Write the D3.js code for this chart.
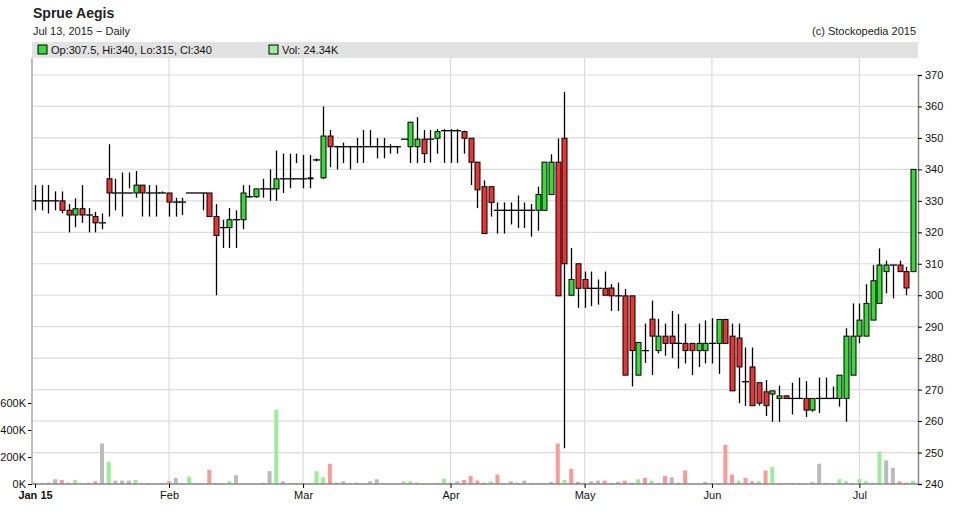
<!DOCTYPE html>
<html>
<head>
<meta charset="utf-8">
<script src="https://cdn.jsdelivr.net/npm/d3@7"></script>
<style>
  body { margin: 0; background: #fff; }
  svg { font-family: "Liberation Sans", Arial, sans-serif; }
</style>
</head>
<body>
<svg id="chart" width="958" height="529"></svg>
<script>
// trading days Jan 2 - Jul 13 2015 (UK holidays removed)
const holidays = ["2015-01-01", "2015-04-03", "2015-04-06", "2015-05-04", "2015-05-25"];
const monthTicks = ["Jan 15", "Feb", "Mar", "Apr", "May", "Jun", "Jul"];
const priceTicks = [240, 250, 260, 270, 280, 290, 300, 310, 320, 330, 340, 350, 360, 370];
const volTicks = [0, 200, 400, 600];

const opens = [330,330,330,330,330,327,325.5,327.5,325.5,325,323,337,332.5,332.5,332.5,332.5,335,332.5,332.5,332.5,332.5,
  329.6,329.6,332.5,332.5,332.5,332.5,325,321.5,321.5,324,324,331.3,331.3,333.8,333.8,333.8,337,337,337,337,
  337,343,337.3,350.6,347.2,347.2,347.2,347.2,347.2,347.2,347.2,347.2,347.2,347.2,349.6,347.2,347.2,349.6,349.6,349.9,352.3,352.3,
  352.3,352,349.9,342.3,334.5,334.5,327,327,327,327,327,327,327,327,332,342.3,349.9,300,310,305,
  302.2,302.2,302.2,302.3,299.8,299.8,299.8,274.6,282.4,292.4,282.4,287,287,284.7,284.7,284.7,282.4,282.4,284.7,
  284.7,292.3,287,286.4,272.5,277.2,272.2,269.3,268.6,267.2,268,267.2,267.2,267.2,263.5,267.2,267.2,267.2,267.2,267.2,274.6,287,
  287,292.1,297.4,307.5,309.6,309.6,307.5,307.5,315];
const highs = [335,335,335,333,333,329,330.8,335,327.7,326.5,326,348,337,339,339,339.5,335,335,335,333,332.5,
  331,331,332.5,332.5,332.5,332.5,329,324,327.7,327,335,335,333.5,337,340,346,345,345,345,344.6,
  344.6,343.5,360,352.5,347.5,348.5,347.5,350,352.5,352.5,350,350,348,347.5,349.6,355,356.6,352.5,352.5,352.8,352.8,352.8,
  352.8,352.3,349.9,342.3,336.5,334.5,329.5,329.5,329.5,331.7,329.5,329,334.5,339.8,344.8,349.9,364.7,315,310,307.5,
  307.5,305,307.5,303.5,304,302,299.8,282.4,291,298.3,292.5,291,295,294,291,284.7,291,292,292.7,
  284.7,292.5,291,291,283.4,283.4,272.2,273,268.6,271.3,268.2,272.2,273.8,272.7,263.6,273.8,273.8,271,267.2,289.5,297.4,
  297.4,303.5,309.6,314.9,311,309.6,311,309,340];
const lows = [327,327,326,327,326,320,321.6,323,320,320,321,325,327,325,334,331,325,325,325,332.5,325,
  325,325.5,332.5,332.5,327,325,300,315,315,315,321,331,331,331,330,330,332.5,334,342,334,
  334,342.5,337,340.7,340,342,340,342,342,347.2,343.5,343.5,345,345,349.6,342,342,342,342.2,345,342,342,
  342,345,335,327.7,319.6,325,319.6,319.6,322.5,321.4,321.4,318.6,320.5,327,332,336.5,251.4,300,296,296,
  296.5,297,300.6,295,295,294.5,271,274.6,278.5,274.6,281.5,280.8,280,276.7,278.3,274.6,277.2,278.3,278.3,
  275,292,281.5,265.7,264.8,264.8,264.9,261.6,259.8,259.8,267.7,262.1,267.2,261.3,263,262.6,267.2,267.2,264.6,259.8,274.6,
  284.7,287,297.4,300.1,300.6,299,307.5,300,315];
const closes = [330,330,330,330,327,325.5,327.5,325.5,325.5,323,323,332.5,332.5,332.5,332.5,335,332.5,332.5,332.5,332.5,329.6,
  329.6,329.6,332.5,332.5,332.5,325,319,321.5,324,324,332.5,331.3,333.8,333.8,333.8,337,337,337,337,337,
  337.3,343,350.6,347.2,347.2,347.2,347.2,347.2,347.2,347.2,347.2,347.2,347.2,347.2,349.6,355,349.6,345,349.6,352,352.3,352.3,
  352.3,349.9,342.3,333.5,319.6,329.5,327,327,327,327,327,327,332,342.3,342.3,299.8,310,305,302.2,
  302.2,302.2,302.2,300,299.8,299.8,274.6,282.4,285,282.4,287,287,284.7,284.7,284.7,282.4,282.4,284.7,284.7,
  284.7,292.3,284.7,269.6,277.2,272.5,264.9,265.7,264.9,269.6,268,267.2,267.2,267.2,263.5,267.2,267.2,267.2,267.2,274.6,287,287,
  292.1,297.4,304.6,309.6,309.6,309.6,307.5,302.3,340];
const volumes = [57,10,8,10,35,30,10,30,5,10,20,300,165,25,25,25,30,5,8,5,8,
  20,45,5,55,5,5,105,8,5,20,65,5,5,5,8,95,550,20,8,8,
  5,5,95,50,150,10,20,8,10,5,20,35,5,5,5,20,20,10,5,5,8,40,
  10,20,30,60,25,10,20,70,5,20,10,25,8,8,8,15,300,30,113,15,
  10,20,25,25,8,15,25,10,35,45,25,5,60,50,10,100,5,5,15,
  8,5,290,70,25,45,20,20,100,125,5,5,8,5,5,15,150,8,5,35,20,8,
  35,20,10,240,175,120,20,10,24.34];

const svg = d3.select("#chart");
const plotLeft = 32, plotRight = 918, plotTop = 58, plotBottom = 484;

// build trading days
const allDays = d3.timeDay.range(new Date(2015, 0, 1), new Date(2015, 6, 14))
  .filter(d => d.getDay() !== 0 && d.getDay() !== 6 && !holidays.includes(d3.timeFormat("%Y-%m-%d")(d)));
const n = Math.min(allDays.length, opens.length, highs.length, lows.length, closes.length);
const days = allDays.slice(allDays.length - n);

const x = d3.scaleLinear().domain([0, days.length - 1]).range([35, 913]);
const y = d3.scaleLinear().domain([240, 370]).range([plotBottom, 75]);
const yv = d3.scaleLinear().domain([0, 200]).range([plotBottom, plotBottom - 27]);

// header
svg.append("text").attr("x", 33).attr("y", 18).attr("font-size", 14).attr("font-weight", "bold").attr("fill", "#222").text("Sprue Aegis");
svg.append("text").attr("x", 33).attr("y", 35).attr("font-size", 11).attr("fill", "#222").text("Jul 13, 2015 \u2212 Daily");
svg.append("text").attr("x", 916).attr("y", 35).attr("font-size", 11).attr("text-anchor", "end").attr("fill", "#222").text("(c) Stockopedia 2015");

// legend band
svg.append("rect").attr("x", plotLeft).attr("y", 42).attr("width", plotRight - plotLeft).attr("height", 16).attr("fill", "#e2e2e2");
const last = n - 1;
svg.append("rect").attr("x", 38).attr("y", 45).attr("width", 9).attr("height", 9).attr("fill", "#33dd33").attr("stroke", "#000");
svg.append("text").attr("x", 51).attr("y", 54).attr("font-size", 11).attr("fill", "#111")
  .text(`Op:${opens[last]}, Hi:${highs[last]}, Lo:${lows[last]}, Cl:${closes[last]}`);
svg.append("rect").attr("x", 269).attr("y", 45).attr("width", 9).attr("height", 9).attr("fill", "#99ee99").attr("stroke", "#000");
svg.append("text").attr("x", 282).attr("y", 54).attr("font-size", 11).attr("fill", "#111").text(`Vol: ${volumes[volumes.length - 1]}K`);

// month tick positions: first trading day of each month
const monthIdx = d3.range(7).map(m => days.findIndex(d => d.getMonth() === m));

// grid
const grid = svg.append("g");
grid.selectAll(".hg").data(priceTicks.slice(1)).enter().append("line")
  .attr("x1", plotLeft).attr("x2", plotRight).attr("y1", d => y(d)).attr("y2", d => y(d))
  .attr("stroke", "#dcdcdc").attr("stroke-width", 1.2);
grid.selectAll(".vg").data(monthIdx.slice(1)).enter().append("line")
  .attr("x1", d => x(d)).attr("x2", d => x(d)).attr("y1", plotTop).attr("y2", plotBottom)
  .attr("stroke", "#dcdcdc").attr("stroke-width", 1.2);

// volume bars, coloured by close vs previous close
const volColor = i => {
  if (i === 0 || i >= n) return "#bbbbbb";
  if (closes[i] > closes[i - 1]) return "#99ee99";
  if (closes[i] < closes[i - 1]) return "#ff9999";
  return "#bbbbbb";
};
svg.append("g").selectAll("rect").data(volumes.slice(volumes.length - n)).enter().append("rect")
  .attr("x", (d, i) => x(i) - 2).attr("width", 4)
  .attr("y", d => yv(d)).attr("height", d => plotBottom - yv(d))
  .attr("fill", (d, i) => volColor(i));

// candles
const cg = svg.append("g");
days.forEach((d, i) => {
  const o = opens[i], c = closes[i], h = highs[i], l = lows[i];
  const cx = Math.round(x(i)) + 0.5;
  cg.append("line").attr("x1", cx).attr("x2", cx).attr("y1", y(h)).attr("y2", y(l)).attr("stroke", "#000").attr("stroke-width", 1.3);
  if (Math.abs(o - c) < 0.2) {
    cg.append("line").attr("x1", cx - 3.5).attr("x2", cx + 3.5).attr("y1", y(o)).attr("y2", y(o)).attr("stroke", "#000").attr("stroke-width", 1.3);
  } else {
    cg.append("rect").attr("x", cx - 2.5).attr("width", 5)
      .attr("y", y(Math.max(o, c))).attr("height", Math.abs(y(o) - y(c)))
      .attr("fill", c > o ? "#33dd33" : "#ee3333").attr("stroke", "#000").attr("stroke-width", 1);
  }
});

// axes
const ya = svg.append("g").attr("transform", `translate(${plotRight},0)`)
  .call(d3.axisRight(y).tickValues(priceTicks).tickSize(4).tickPadding(3));
ya.select(".domain").attr("stroke", "#888").attr("stroke-width", 1.5);
ya.selectAll("text").attr("font-size", 11).attr("fill", "#111");

const va = svg.append("g").attr("transform", `translate(${plotLeft},0)`)
  .call(d3.axisLeft(yv).tickValues(volTicks).tickSize(4).tickPadding(2).tickFormat(d => d + "K"));
va.select(".domain").remove();
va.selectAll("text").attr("font-size", 11).attr("fill", "#111");
svg.append("line").attr("x1", plotLeft).attr("x2", plotLeft).attr("y1", plotTop).attr("y2", plotBottom).attr("stroke", "#aaa").attr("stroke-width", 1.5);

const xa = svg.append("g").attr("transform", `translate(0,${plotBottom})`)
  .call(d3.axisBottom(x).tickValues(monthIdx).tickSize(4).tickPadding(3).tickFormat((d, i) => monthTicks[i]));
xa.select(".domain").attr("stroke", "#888").attr("stroke-width", 1.5).attr("d", `M${plotLeft},0H${plotRight}`);
xa.selectAll("text").attr("font-size", 11).attr("fill", "#111");
xa.selectAll("text").filter((d, i) => i === 0).attr("font-weight", "bold");
</script>
</body>
</html>
